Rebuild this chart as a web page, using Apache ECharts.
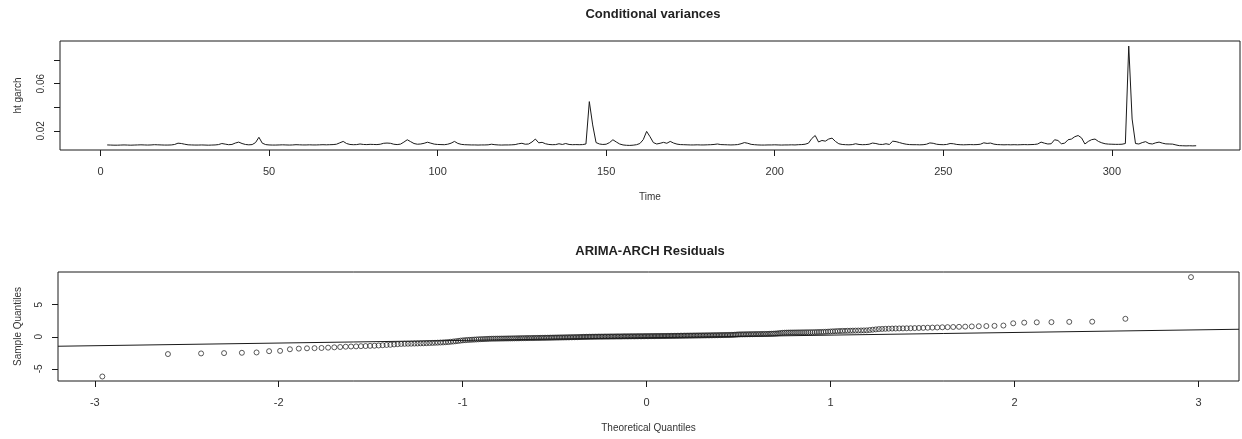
<!DOCTYPE html>
<html>
<head>
<meta charset="utf-8">
<script src="https://cdn.jsdelivr.net/npm/echarts@6/dist/echarts.min.js"></script>
<style>
  html, body { margin: 0; padding: 0; background: #ffffff; }
  #chart { width: 1242px; height: 439px; }
</style>
</head>
<body>
<div id="chart"></div>
<script>
// ---- Conditional variances (GARCH h_t), one value per time step ----
const timeStart = 2;
const htGarch = [
  0.0080, 0.0079, 0.0078, 0.0078, 0.0079, 0.0080, 0.0079, 0.0078, 0.0079, 0.0080,
  0.0081, 0.0080, 0.0079, 0.0080, 0.0082, 0.0081, 0.0080, 0.0079, 0.0079, 0.0080,
  0.0084, 0.0095, 0.0092, 0.0086, 0.0081, 0.0080, 0.0079, 0.0079, 0.0080, 0.0079,
  0.0078, 0.0079, 0.0080, 0.0083, 0.0092, 0.0087, 0.0082, 0.0084, 0.0096, 0.0104,
  0.0092, 0.0084, 0.0081, 0.0083, 0.0100, 0.0145, 0.0095, 0.0083, 0.0080, 0.0079,
  0.0079, 0.0080, 0.0081, 0.0080, 0.0079, 0.0080, 0.0082, 0.0081, 0.0080, 0.0080,
  0.0081, 0.0080, 0.0080, 0.0081, 0.0082, 0.0081, 0.0082, 0.0083, 0.0086, 0.0098,
  0.0110, 0.0092, 0.0084, 0.0082, 0.0083, 0.0088, 0.0084, 0.0083, 0.0085, 0.0084,
  0.0083, 0.0086, 0.0094, 0.0096, 0.0094, 0.0086, 0.0083, 0.0087, 0.0104, 0.0124,
  0.0108, 0.0092, 0.0086, 0.0088, 0.0094, 0.0103, 0.0095, 0.0087, 0.0084, 0.0083,
  0.0082, 0.0086, 0.0095, 0.0110, 0.0093, 0.0085, 0.0082, 0.0081, 0.0080, 0.0080,
  0.0079, 0.0080, 0.0080, 0.0081, 0.0086, 0.0082, 0.0080, 0.0079, 0.0080, 0.0080,
  0.0081, 0.0083, 0.0090, 0.0094, 0.0086, 0.0088, 0.0105, 0.0130, 0.0098, 0.0102,
  0.0090, 0.0084, 0.0082, 0.0083, 0.0090, 0.0084, 0.0092, 0.0084, 0.0082, 0.0083,
  0.0082, 0.0083, 0.0088, 0.0448, 0.0250, 0.0100, 0.0088, 0.0084, 0.0086, 0.0100,
  0.0124, 0.0105, 0.0088, 0.0080, 0.0077, 0.0076, 0.0078, 0.0082, 0.0092, 0.0125,
  0.0195, 0.0150, 0.0100, 0.0088, 0.0094, 0.0102, 0.0094, 0.0110, 0.0096, 0.0087,
  0.0083, 0.0082, 0.0081, 0.0080, 0.0080, 0.0081, 0.0080, 0.0080, 0.0081, 0.0082,
  0.0084, 0.0088, 0.0083, 0.0082, 0.0081, 0.0080, 0.0081, 0.0083, 0.0090, 0.0100,
  0.0094, 0.0085, 0.0082, 0.0080, 0.0079, 0.0079, 0.0080, 0.0080, 0.0081, 0.0080,
  0.0079, 0.0080, 0.0080, 0.0081, 0.0080, 0.0082, 0.0083, 0.0086, 0.0095, 0.0135,
  0.0160, 0.0105, 0.0118, 0.0112, 0.0130, 0.0138, 0.0110, 0.0090, 0.0084, 0.0082,
  0.0081, 0.0083, 0.0090, 0.0084, 0.0082, 0.0083, 0.0086, 0.0096, 0.0092, 0.0085,
  0.0084, 0.0090, 0.0084, 0.0112, 0.0108, 0.0100, 0.0092, 0.0086, 0.0083, 0.0082,
  0.0082, 0.0081, 0.0082, 0.0086, 0.0097, 0.0094, 0.0086, 0.0083, 0.0082, 0.0084,
  0.0092, 0.0090, 0.0084, 0.0082, 0.0081, 0.0082, 0.0083, 0.0082, 0.0083, 0.0086,
  0.0098, 0.0093, 0.0096, 0.0087, 0.0083, 0.0082, 0.0081, 0.0082, 0.0081, 0.0082,
  0.0081, 0.0082, 0.0083, 0.0082, 0.0083, 0.0084, 0.0088, 0.0104, 0.0095, 0.0088,
  0.0090, 0.0124, 0.0118, 0.0090, 0.0095, 0.0124, 0.0130, 0.0150, 0.0160, 0.0140,
  0.0088, 0.0110, 0.0125, 0.0130, 0.0110, 0.0098, 0.0090, 0.0087, 0.0086, 0.0085,
  0.0085, 0.0086, 0.0092, 0.0920, 0.0300, 0.0092, 0.0088, 0.0100, 0.0108, 0.0092,
  0.0088, 0.0098, 0.0104, 0.0095, 0.0089, 0.0088, 0.0087, 0.0080, 0.0074, 0.0073,
  0.0072, 0.0073, 0.0072, 0.0073
];
const timeTicks = [0, 50, 100, 150, 200, 250, 300];
const varianceTicks = [0.02, 0.04, 0.06, 0.08];
const varianceLabels = [0.02, 0.06];

// ---- Sorted ARIMA-ARCH residuals (sample quantiles) ----
const residualQuantiles = [
  -6.20, -2.70, -2.60, -2.55, -2.50, -2.45, -2.25, -2.20, -1.95, -1.85,
  -1.80, -1.78, -1.75, -1.70, -1.65, -1.60, -1.55, -1.52, -1.50, -1.47,
  -1.45, -1.42, -1.40, -1.36, -1.32, -1.28, -1.25, -1.20, -1.16, -1.12,
  -1.10, -1.09, -1.08, -1.06, -1.05, -1.03, -1.02, -1.00, -0.98, -0.96,
  -0.94, -0.92, -0.90, -0.88, -0.85, -0.82, -0.78, -0.74, -0.70, -0.65,
  -0.60, -0.56, -0.53, -0.50, -0.48, -0.46, -0.44, -0.42, -0.40, -0.38,
  -0.37, -0.35, -0.34, -0.32, -0.31, -0.30, -0.30, -0.29, -0.29, -0.28,
  -0.28, -0.27, -0.27, -0.26, -0.26, -0.25, -0.25, -0.24, -0.24, -0.23,
  -0.23, -0.22, -0.22, -0.21, -0.21, -0.20, -0.20, -0.19, -0.19, -0.18,
  -0.18, -0.17, -0.17, -0.16, -0.16, -0.15, -0.15, -0.14, -0.14, -0.13,
  -0.13, -0.12, -0.12, -0.11, -0.11, -0.10, -0.10, -0.09, -0.09, -0.08,
  -0.08, -0.07, -0.07, -0.06, -0.06, -0.05, -0.04, -0.03, -0.02, -0.02,
  -0.01, -0.01, 0.00, 0.00, 0.00, 0.01, 0.01, 0.01, 0.02, 0.02,
  0.02, 0.02, 0.03, 0.03, 0.03, 0.03, 0.04, 0.04, 0.04, 0.04,
  0.05, 0.05, 0.05, 0.05, 0.05, 0.06, 0.06, 0.06, 0.06, 0.06,
  0.07, 0.07, 0.07, 0.07, 0.07, 0.08, 0.08, 0.08, 0.08, 0.08,
  0.09, 0.09, 0.09, 0.09, 0.10, 0.10, 0.10, 0.10, 0.11, 0.11,
  0.11, 0.11, 0.12, 0.12, 0.12, 0.12, 0.13, 0.13, 0.13, 0.14,
  0.14, 0.14, 0.15, 0.15, 0.15, 0.16, 0.16, 0.16, 0.17, 0.17,
  0.17, 0.18, 0.18, 0.18, 0.19, 0.19, 0.19, 0.20, 0.20, 0.20,
  0.21, 0.21, 0.21, 0.22, 0.22, 0.22, 0.23, 0.23, 0.24, 0.24,
  0.24, 0.25, 0.25, 0.26, 0.26, 0.27, 0.27, 0.28, 0.28, 0.29,
  0.30, 0.31, 0.33, 0.35, 0.36, 0.37, 0.37, 0.38, 0.38, 0.39,
  0.39, 0.40, 0.40, 0.41, 0.41, 0.42, 0.42, 0.43, 0.43, 0.44,
  0.44, 0.45, 0.46, 0.47, 0.48, 0.50, 0.52, 0.55, 0.58, 0.61,
  0.63, 0.64, 0.65, 0.66, 0.66, 0.67, 0.67, 0.68, 0.68, 0.69,
  0.69, 0.70, 0.70, 0.71, 0.71, 0.72, 0.73, 0.74, 0.75, 0.76,
  0.78, 0.80, 0.82, 0.84, 0.86, 0.88, 0.90, 0.91, 0.92, 0.93,
  0.94, 0.95, 0.96, 0.97, 0.98, 0.99, 1.00, 1.05, 1.10, 1.15,
  1.20, 1.22, 1.24, 1.26, 1.28, 1.29, 1.30, 1.31, 1.32, 1.33,
  1.35, 1.37, 1.39, 1.41, 1.43, 1.45, 1.48, 1.50, 1.52, 1.55,
  1.58, 1.61, 1.64, 1.67, 1.70, 1.75, 2.10, 2.20, 2.25, 2.28,
  2.32, 2.35, 2.80, 9.30
];
const quantileTicks = [-3, -2, -1, 0, 1, 2, 3];
const residualTicks = [-5, 0, 5];
// Reference line through the quartiles, given by its two end points
const qqLineX = [-3.20, 3.22];
const qqLineY = [-1.48, 1.17];

// Inverse standard normal CDF (Acklam's rational approximation)
function qnorm(p) {
  const a = [-3.969683028665376e+01, 2.209460984245205e+02, -2.759285104469687e+02,
             1.383577518672690e+02, -3.066479806614716e+01, 2.506628277459239e+00];
  const b = [-5.447609879822406e+01, 1.615858368580409e+02, -1.556989798598866e+02,
             6.680131188771972e+01, -1.328068155288572e+01];
  const c = [-7.784894002430293e-03, -3.223964580411365e-01, -2.400758277161838e+00,
             -2.549732539343734e+00, 4.374664141464968e+00, 2.938163982698783e+00];
  const d = [7.784695709041462e-03, 3.224671290700398e-01, 2.445134137142996e+00,
             3.754408661907416e+00];
  const pl = 0.02425, ph = 1 - pl;
  let q, r;
  if (p < pl) {
    q = Math.sqrt(-2 * Math.log(p));
    return (((((c[0]*q+c[1])*q+c[2])*q+c[3])*q+c[4])*q+c[5]) /
           ((((d[0]*q+d[1])*q+d[2])*q+d[3])*q+1);
  }
  if (p <= ph) {
    q = p - 0.5; r = q * q;
    return (((((a[0]*r+a[1])*r+a[2])*r+a[3])*r+a[4])*r+a[5])*q /
           (((((b[0]*r+b[1])*r+b[2])*r+b[3])*r+b[4])*r+1);
  }
  q = Math.sqrt(-2 * Math.log(1 - p));
  return -(((((c[0]*q+c[1])*q+c[2])*q+c[3])*q+c[4])*q+c[5]) /
          ((((d[0]*q+d[1])*q+d[2])*q+d[3])*q+1);
}

// ---- Build series data ----
const varianceSeries = htGarch.map((v, i) => [timeStart + i, v]);
const n = residualQuantiles.length;
const qqPoints = residualQuantiles.map((v, i) => [qnorm((i + 1 - 0.5) / n), v]);
const qqLine = qqLineX.map((x, i) => [x, qqLineY[i]]);

const FONT = 'Liberation Sans';
const INK = '#1a1a1a';
const TEXT = '#333333';

// Axes sit on the plot box edges (not on the zero line); the box itself is the grid border
function boxAxisCommon() {
  return {
    type: 'value',
    axisLine: { show: false, onZero: false },
    splitLine: { show: false },
    nameLocation: 'middle',
    nameTextStyle: { fontFamily: FONT, fontSize: 10, color: TEXT }
  };
}

const chart = echarts.init(document.getElementById('chart'), null, { renderer: 'canvas' });
chart.setOption({
  animation: false,
  backgroundColor: '#ffffff',
  textStyle: { fontFamily: FONT },
  title: [
    {
      text: 'Conditional variances',
      left: 648, top: 3, textAlign: 'center',
      textStyle: { fontFamily: FONT, fontSize: 13, fontWeight: 'bold', color: '#222' }
    },
    {
      text: 'ARIMA-ARCH Residuals',
      left: 645, top: 240, textAlign: 'center',
      textStyle: { fontFamily: FONT, fontSize: 13, fontWeight: 'bold', color: '#222' }
    }
  ],
  grid: [
    { left: 60, top: 41, width: 1180, height: 109, show: true,
      borderColor: INK, borderWidth: 1, backgroundColor: 'transparent', containLabel: false },
    { left: 58, top: 272, width: 1181, height: 109, show: true,
      borderColor: INK, borderWidth: 1, backgroundColor: 'transparent', containLabel: false }
  ],
  xAxis: [
    Object.assign(boxAxisCommon(), {
      gridIndex: 0, position: 'bottom', min: -12, max: 338,
      name: 'Time', nameGap: 42,
      axisTick: { show: true, customValues: timeTicks, length: 6, lineStyle: { color: INK } },
      axisLabel: { customValues: timeTicks, margin: 16, fontSize: 11, color: TEXT, fontFamily: FONT }
    }),
    Object.assign(boxAxisCommon(), {
      gridIndex: 1, position: 'bottom', min: -3.2, max: 3.22,
      name: 'Theoretical Quantiles', nameGap: 42,
      axisTick: { show: true, customValues: quantileTicks, length: 6, lineStyle: { color: INK } },
      axisLabel: { customValues: quantileTicks, margin: 16, fontSize: 11, color: TEXT, fontFamily: FONT }
    })
  ],
  yAxis: [
    Object.assign(boxAxisCommon(), {
      gridIndex: 0, position: 'left', min: 0.0037, max: 0.0963,
      name: 'ht garch', nameGap: 37, nameRotate: 90,
      axisTick: { show: true, customValues: varianceTicks, length: 6, lineStyle: { color: INK } },
      axisLabel: { customValues: varianceLabels, rotate: 90, margin: 14, fontSize: 10,
                   color: TEXT, fontFamily: FONT, formatter: v => v.toFixed(2) }
    }),
    Object.assign(boxAxisCommon(), {
      gridIndex: 1, position: 'left', min: -6.9, max: 10.1,
      name: 'Sample Quantiles', nameGap: 35, nameRotate: 90,
      axisTick: { show: true, customValues: residualTicks, length: 6, lineStyle: { color: INK } },
      axisLabel: { customValues: residualTicks, rotate: 90, margin: 14, fontSize: 10,
                   color: TEXT, fontFamily: FONT }
    })
  ],
  series: [
    {
      name: 'ht garch',
      type: 'line',
      xAxisIndex: 0, yAxisIndex: 0,
      data: varianceSeries,
      showSymbol: false,
      silent: true,
      lineStyle: { color: INK, width: 1 }
    },
    {
      name: 'qq line',
      type: 'line',
      xAxisIndex: 1, yAxisIndex: 1,
      data: qqLine,
      showSymbol: false,
      silent: true,
      lineStyle: { color: INK, width: 1 }
    },
    {
      name: 'residuals',
      type: 'scatter',
      xAxisIndex: 1, yAxisIndex: 1,
      data: qqPoints,
      symbol: 'circle',
      symbolSize: 5,
      silent: true,
      itemStyle: { color: 'transparent', borderColor: INK, borderWidth: 0.9 }
    }
  ]
});
</script>
</body>
</html>
